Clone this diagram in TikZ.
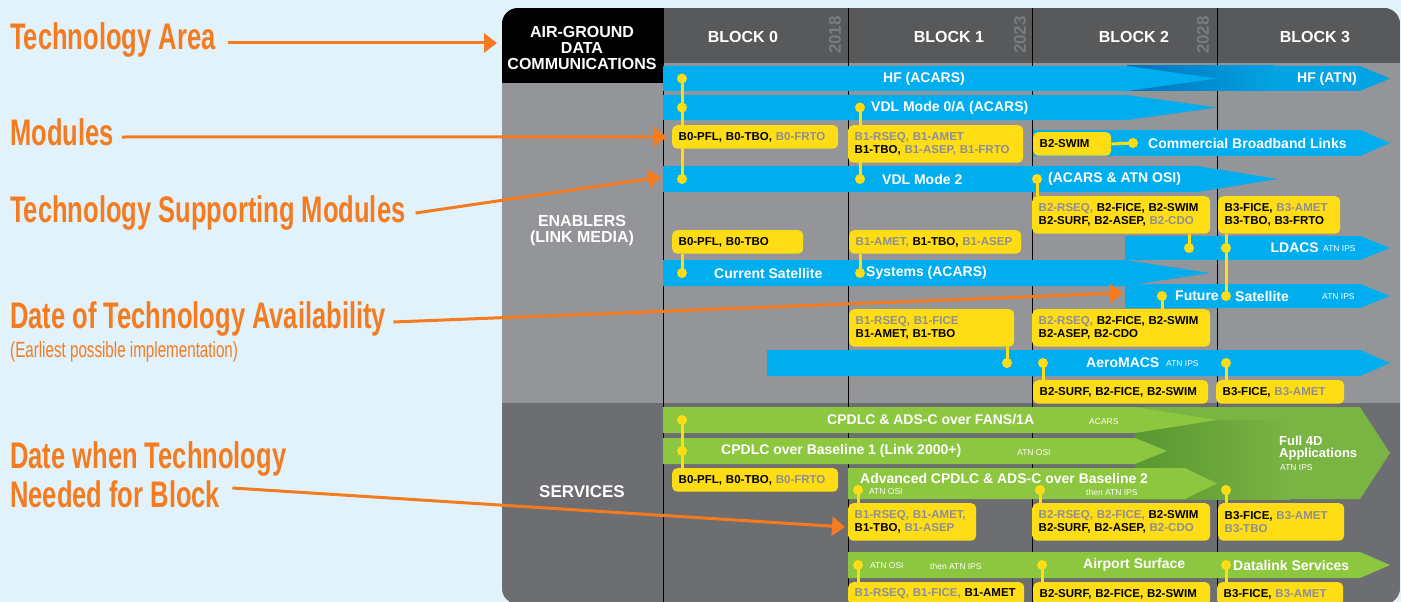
\documentclass[tikz,border=0pt]{standalone}
\usepackage{fontspec}
\setmainfont{Liberation Sans}
\newfontfamily\condfont[FakeStretch=0.69]{Liberation Sans}
\usetikzlibrary{arrows.meta,calc}

\definecolor{skyback}{HTML}{E1F2FB}
\definecolor{enablegray}{HTML}{939598}
\definecolor{servgray}{HTML}{6D6E71}
\definecolor{headgray}{HTML}{58595B}
\definecolor{yeargray}{HTML}{7A7B7E}
\definecolor{linkblue}{HTML}{00AEEF}
\definecolor{darkblue}{HTML}{0072BC}
\definecolor{atnblue}{HTML}{03A4E3}
\definecolor{servgreen}{HTML}{8DC63F}
\definecolor{fullgreen}{HTML}{7AB443}
\definecolor{shadegreen}{HTML}{5A9632}
\definecolor{modyellow}{HTML}{FFDD15}
\definecolor{modgray}{HTML}{8E8F92}
\definecolor{calloutorange}{HTML}{F47B20}

\newcommand{\gm}[1]{\textcolor{modgray}{#1}}

\begin{document}
\begin{tikzpicture}[x=1pt,y=-1pt,
    barlabel/.style={text=white,font=\bfseries\fontsize{14}{14}\selectfont,inner sep=0,anchor=west},
    tag/.style={text=white,font=\fontsize{8.5}{9}\selectfont,inner sep=0,anchor=west},
    head/.style={text=white,font=\bfseries\fontsize{16}{16}\selectfont,align=center,inner sep=0},
    modbox/.style={fill=modyellow,rounded corners=5pt,anchor=north west,align=left,
      inner xsep=6.5pt,inner ysep=0pt,font=\bfseries\fontsize{11.5}{13.3}\selectfont},
    onerow/.style={minimum height=23.5pt},
    tworow/.style={minimum height=37.5pt},
    dot/.style={circle,fill=modyellow,inner sep=0,minimum size=10pt},
    link/.style={modyellow,line width=3pt},
    callout/.style={calloutorange,line width=3pt,-{Triangle[length=13pt,width=19pt]}},
    area/.style={text=calloutorange,font=\condfont\bfseries\fontsize{37}{40}\selectfont,inner sep=0,anchor=base west}]

      %background and frame
      \useasboundingbox (0,0) rectangle (1401,602);
      \fill[skyback] (0,0) rectangle (1401,602);
      \begin{scope}
        \clip[rounded corners=16pt] (502,8) rectangle (1400,604);
        \fill[enablegray] (502,8) rectangle (1400,604);
        \fill[servgray] (502,403) rectangle (1400,604);
        \fill[headgray] (663,8) rectangle (1400,63);
        \fill[black] (502,8) rectangle (663,83);
        \foreach \x in {663,848,1032,1217}
          \draw[black,line width=1pt] (\x,8) -- (\x,604);
      \end{scope}

      %draw header
      \node[head] (ag) at (582,47.5) {AIR-GROUND\\DATA\\COMMUNICATIONS};
      \foreach \x/\n in {743/0,949/1,1134/2,1315/3}
        \node[head] (blk\n) at (\x,37) {BLOCK \n};
      \foreach \x/\yr in {835/2018,1020/2023,1203/2028}
        \node[rotate=90,text=yeargray,font=\bfseries\fontsize{17}{17}\selectfont,inner sep=0] (yr\yr) at (\x,35) {\yr};
      \node[head] (enab) at (582,231) {ENABLERS\\(LINK MEDIA)};
      \node[head,font=\bfseries\fontsize{17}{17}\selectfont] (serv) at (582,492) {SERVICES};

      %draw link media bars
      \fill[atnblue] (1127,66) -- (1360,66) -- (1390,78.5) -- (1360,91) -- (1127,91) -- cycle;
      \shade[left color=darkblue,right color=atnblue] (1127,66) rectangle (1275,91);
      \foreach \xa/\xb/\xc/\ya/\yb in {663/1127/1217/66/91, 663/1127/1217/95/120,
          1033/1360/1390/130/156, 663/1197/1278/166/192, 1125/1360/1390/236/260,
          663/1124/1210/260/286, 1125/1360/1390/284/308, 767/1360/1390/350/376}
        \fill[linkblue] (\xa,\ya) -- (\xb,\ya) -- (\xc,{(\ya+\yb)/2}) -- (\xb,\yb) -- (\xa,\yb) -- cycle;

      %draw service bars
      \fill[fullgreen] (1135,407) -- (1360,407) -- (1390,453) -- (1360,499) -- (1135,499) -- cycle;
      \shade[left color=shadegreen,right color=fullgreen] (1135,420) rectangle (1290,499);
      \foreach \xa/\xb/\xc/\ya/\yb in {663/1135/1217/407/433, 663/1135/1167/438/464,
          848/1185/1217/468/499, 848/1360/1390/552/578}
        \fill[servgreen] (\xa,\ya) -- (\xb,\ya) -- (\xc,{(\ya+\yb)/2}) -- (\xb,\yb) -- (\xa,\yb) -- cycle;

      %bar labels
      \node[barlabel,anchor=center] (hfa) at (924,78.5) {HF (ACARS)};
      \node[barlabel,anchor=east] (hfb) at (1357,78.5) {HF (ATN)};
      \node[barlabel] (vdla) at (871,108) {VDL Mode 0/A (ACARS)};
      \node[barlabel] (cbl) at (1148,143) {Commercial Broadband Links};
      \node[barlabel] (vdlb) at (882,179) {VDL Mode 2};
      \node[barlabel] (vdlc) at (1048,179) {(ACARS \& ATN OSI)};
      \node[barlabel,anchor=east] (ldacs) at (1319,248) {LDACS};
      \node[tag] (ldacsb) at (1323,249) {ATN IPS};
      \node[barlabel] (csa) at (714,273) {Current Satellite};
      \node[barlabel] (csb) at (866,273) {Systems (ACARS)};
      \node[barlabel] (fsa) at (1175,296) {Future};
      \node[barlabel] (fsb) at (1235,296) {Satellite};
      \node[tag] (fsc) at (1322,297) {ATN IPS};
      \node[barlabel] (amac) at (1086,363) {AeroMACS};
      \node[tag] (amacb) at (1166,364) {ATN IPS};
      \node[barlabel] (fans) at (827,420) {CPDLC \& ADS-C over FANS/1A};
      \node[tag] (fansb) at (1089,422) {ACARS};
      \node[barlabel] (bl1) at (721,451) {CPDLC over Baseline 1 (Link 2000+)};
      \node[tag] (bl1b) at (1017,453) {ATN OSI};
      \node[barlabel] (bl2) at (860,478) {Advanced CPDLC \& ADS-C over Baseline 2};
      \node[tag] (bl2b) at (869,492) {ATN OSI};
      \node[tag] (bl2c) at (1086,492) {then ATN IPS};
      \node[barlabel,align=left,font=\bfseries\fontsize{13}{12}\selectfont] (f4d) at (1279,448) {Full 4D\\Applications};
      \node[tag] (f4db) at (1280,468) {ATN IPS};
      \node[tag] (apsa) at (870,566) {ATN OSI};
      \node[tag] (apsb) at (930,566) {then ATN IPS};
      \node[barlabel] (apsc) at (1083,565) {Airport Surface};
      \node[barlabel] (apsd) at (1233,565) {Datalink Services};

      %dots
      \foreach \n/\x/\y in {hf0/682/78.5, va0/682/107.5, va1/860/107.5, vb0/682/179, vb1/860/179,
          vb2/1037/179, cb2/1133/143, ld2/1189/248, ld3/1226/248, cs0/682/273, cs1/860/273,
          fs2/1162/296, fs3/1226/296, am1/1007/363, am2/1043/363, am3/1226/363,
          fa0/682/420, ba0/682/451, ad1/858/490, ad2/1040/490, ad3/1226/490,
          as1/858/565, as2/1042/565, as3/1226/565}
        \coordinate (d\n) at (\x,\y);
      \draw[link] (dhf0) -- (dvb0);
      \draw[link] (dva1) -- (dvb1);

      %modules
      \node[modbox,onerow,text width=153pt] (m0a) at (672,125) {B0-PFL, B0-TBO, \gm{B0-FRTO}};
      \node[modbox,tworow,text width=162pt] (m1a) at (848,125) {\gm{B1-RSEQ, B1-AMET}\\B1-TBO, \gm{B1-ASEP, B1-FRTO}};
      \node[modbox,onerow,text width=65pt] (m2a) at (1033,132) {B2-SWIM};
      \node[modbox,tworow,text width=165pt] (m2b) at (1032,196) {\gm{B2-RSEQ,} B2-FICE, B2-SWIM\\B2-SURF, B2-ASEP, \gm{B2-CDO}};
      \node[modbox,tworow,text width=109pt] (m3b) at (1218,196) {B3-FICE, \gm{B3-AMET}\\B3-TBO, B3-FRTO};
      \node[modbox,onerow,text width=118pt] (m0c) at (672,230) {B0-PFL, B0-TBO};
      \node[modbox,onerow,text width=159pt] (m1c) at (849,230) {\gm{B1-AMET,} B1-TBO, \gm{B1-ASEP}};
      \node[modbox,tworow,text width=152pt] (m1d) at (849,309) {\gm{B1-RSEQ, B1-FICE}\\B1-AMET, B1-TBO};
      \node[modbox,tworow,text width=165pt] (m2d) at (1032,309) {\gm{B2-RSEQ,} B2-FICE, B2-SWIM\\B2-ASEP, B2-CDO};
      \node[modbox,onerow,text width=162pt] (m2e) at (1033,380) {B2-SURF, B2-FICE, B2-SWIM};
      \node[modbox,onerow,text width=115pt] (m3e) at (1216,380) {B3-FICE, \gm{B3-AMET}};
      \node[modbox,onerow,text width=153pt] (m0f) at (672,468) {B0-PFL, B0-TBO, \gm{B0-FRTO}};
      \node[modbox,tworow,text width=115pt] (m1g) at (848,503) {\gm{B1-RSEQ, B1-AMET,}\\B1-TBO, \gm{B1-ASEP}};
      \node[modbox,tworow,text width=165pt] (m2g) at (1032,503) {\gm{B2-RSEQ, B2-FICE,} B2-SWIM\\B2-SURF, B2-ASEP, \gm{B2-CDO}};
      \node[modbox,tworow,text width=113pt] (m3g) at (1218,503) {B3-FICE, \gm{B3-AMET}\\\gm{B3-TBO}};
      \node[modbox,onerow,text width=163pt] (m1h) at (848,582) {\gm{B1-RSEQ, B1-FICE,} B1-AMET};
      \node[modbox,onerow,text width=164pt] (m2h) at (1033,582) {B2-SURF, B2-FICE, B2-SWIM};
      \node[modbox,onerow,text width=113pt] (m3h) at (1217,582) {B3-FICE, \gm{B3-AMET}};

      %links from modules to bars
      \draw[link] (m2a.east) -- (dcb2);
      \draw[link] (dvb2) -- (dvb2 |- m2b.north);
      \draw[link] (dld2) -- (dld2 |- m2b.south);
      \draw[link] (dld3 |- m3b.south) -- (dfs3);
      \draw[link] (dcs0) -- (dcs0 |- m0c.south);
      \draw[link] (dcs1) -- (dcs1 |- m1c.south);
      \draw[link] (dfs2) -- (dfs2 |- m2d.north);
      \draw[link] (dam1) -- (dam1 |- m1d.south);
      \draw[link] (dam2) -- (dam2 |- m2e.north);
      \draw[link] (dam3) -- (dam3 |- m3e.north);
      \draw[link] (dfa0) -- (dfa0 |- m0f.north);
      \draw[link] (dad1) -- (dad1 |- m1g.north);
      \draw[link] (dad2) -- (dad2 |- m2g.north);
      \draw[link] (dad3) -- (dad3 |- m3g.north);
      \draw[link] (das1) -- (das1 |- m1h.north);
      \draw[link] (das2) -- (das2 |- m2h.north);
      \draw[link] (das3) -- (das3 |- m3h.north);
      \foreach \n in {hf0,va0,va1,vb0,vb1,vb2,cb2,ld2,ld3,cs0,cs1,fs2,fs3,am1,am2,am3,
          fa0,ba0,ad1,ad2,ad3,as1,as2,as3}
        \node[dot] (dot\n) at (d\n) {};

      % callouts on the left
      \node[area] (lta) at (10,50) {Technology Area};
      \node[area] (lmod) at (10,145) {Modules};
      \node[area] (ltsm) at (10,222) {Technology Supporting Modules};
      \node[area] (ldta) at (10,328) {Date of Technology Availability};
      \node[area,font=\condfont\fontsize{22}{22}\selectfont] (lear) at (10,357) {(Earliest possible implementation)};
      \node[area] (ldwn) at (10,468) {Date when Technology};
      \node[area] (ldwnb) at (10,507) {Needed for Block};
      \coordinate (taend) at (497,43);
      \coordinate (tsmend) at (661,177);
      \coordinate (dtaend) at (1123,293);
      \coordinate (dwnend) at (845,527);
      \draw[callout] ($(lta.base east)+(12,-7)$) -- (taend);
      \draw[callout,shorten >=5pt] ($(lmod.base east)+(8,-8)$) -- (m0a.west);
      \draw[callout] ($(ltsm.base east)+(10,-9)$) -- (tsmend);
      \draw[callout] ($(ldta.base east)+(7,-6)$) -- (dtaend);
      \draw[callout] ($(ldwnb.base east)+(12,-19)$) -- (dwnend);
    \end{tikzpicture}
\end{document}
